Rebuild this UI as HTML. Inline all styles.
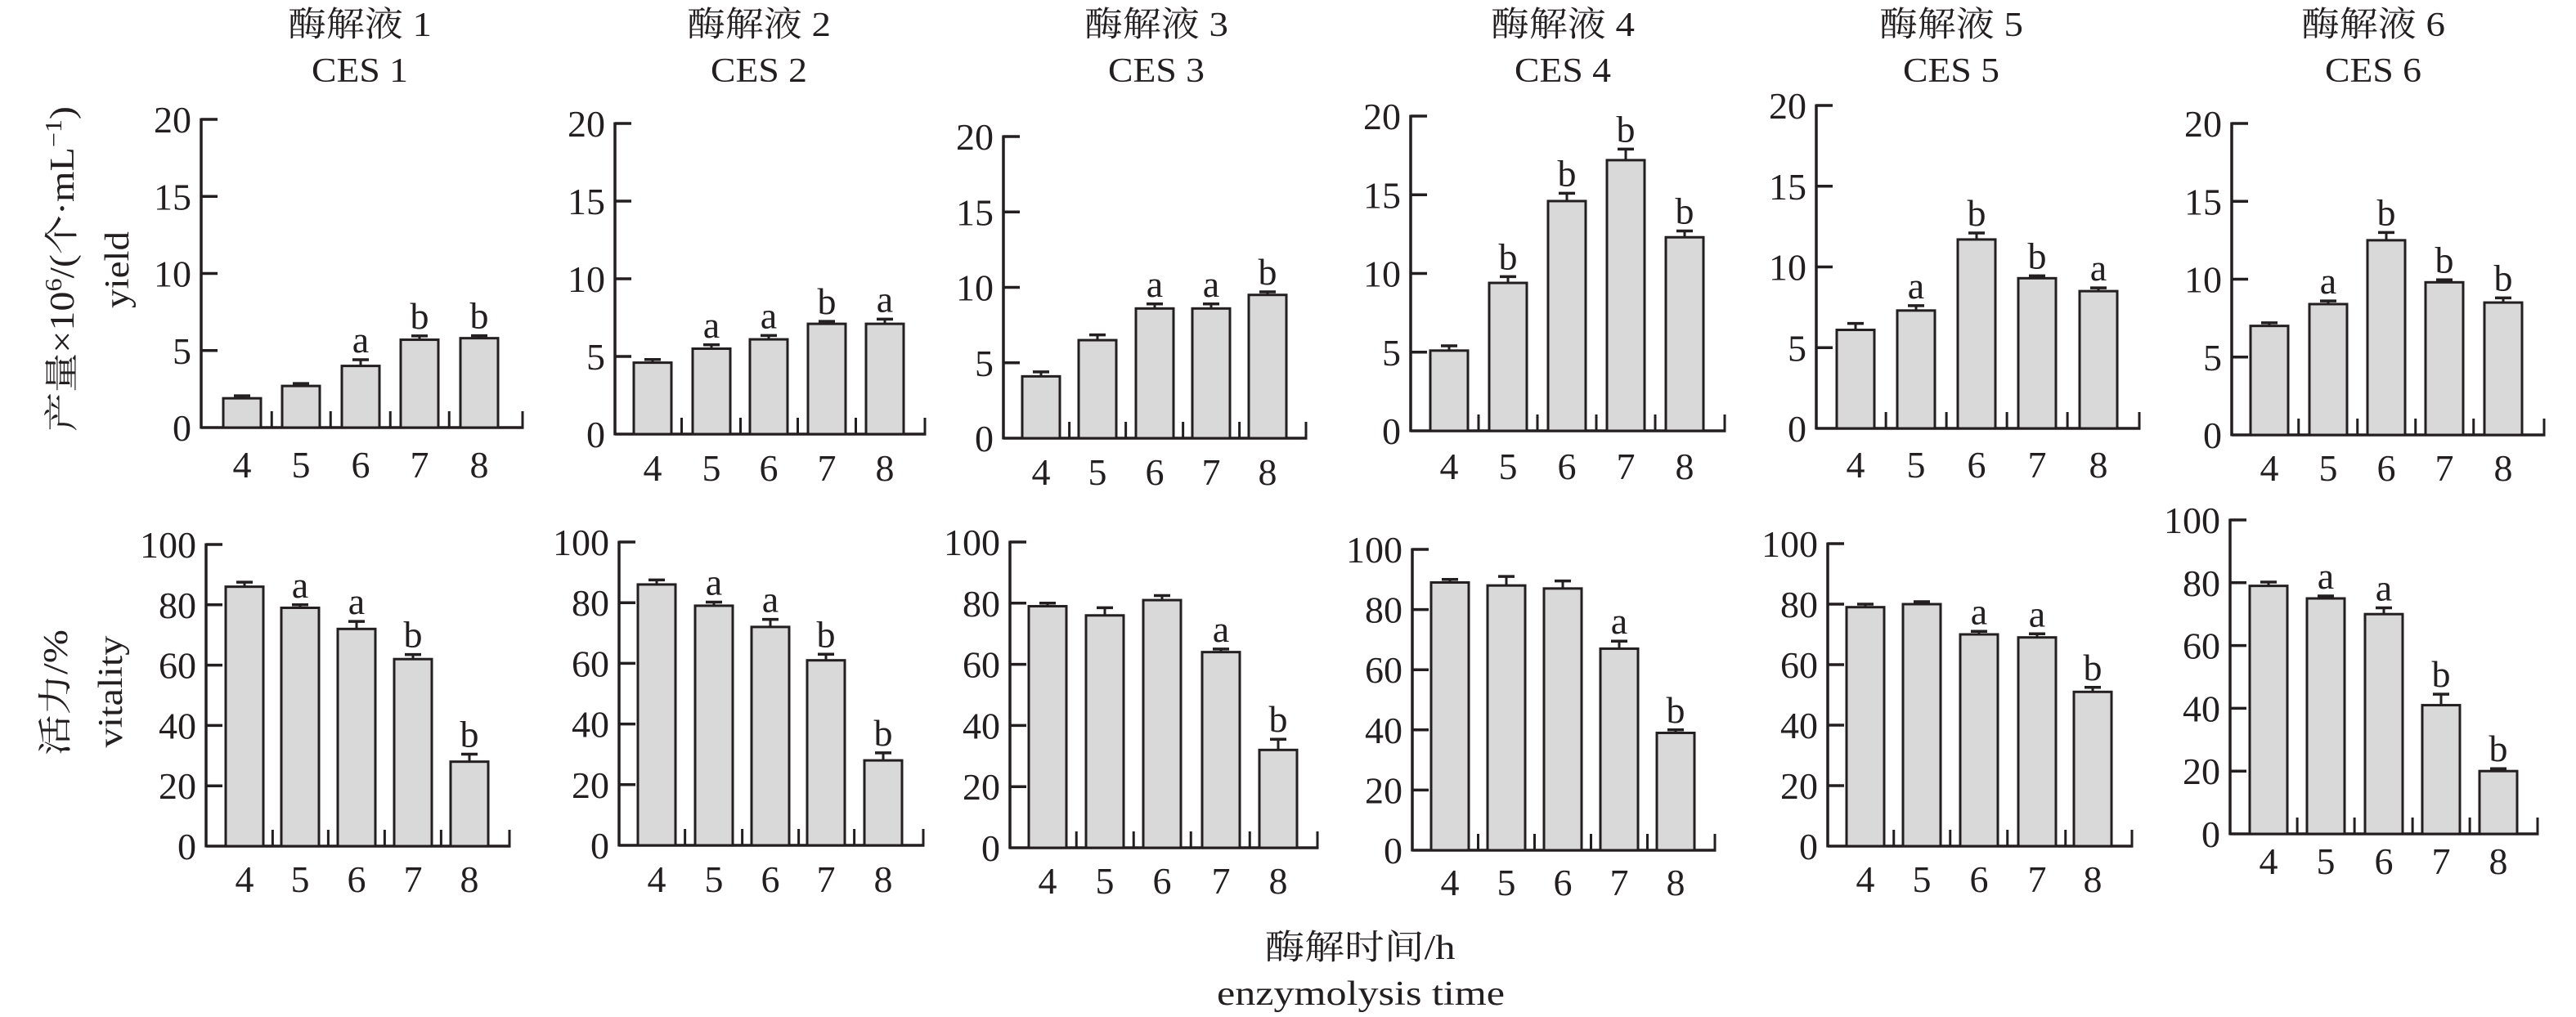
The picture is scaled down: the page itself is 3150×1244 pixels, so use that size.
<!DOCTYPE html>
<html><head><meta charset="utf-8">
<style>
html,body{margin:0;padding:0;background:#fff;}
svg{display:block;}
text{font-family:"Liberation Serif","Noto Serif CJK SC","Noto Sans CJK SC",serif;fill:#231f20;}
</style></head>
<body>
<svg id="s" width="3150" height="1244" viewBox="0 0 3150 1244" xmlns="http://www.w3.org/2000/svg">
<text x="440" y="44" font-size="42" text-anchor="middle" textLength="176" lengthAdjust="spacingAndGlyphs">酶解液 1</text>
<text x="440" y="100" font-size="42" text-anchor="middle" textLength="118" lengthAdjust="spacingAndGlyphs">CES 1</text>
<text x="928" y="44" font-size="42" text-anchor="middle" textLength="176" lengthAdjust="spacingAndGlyphs">酶解液 2</text>
<text x="928" y="100" font-size="42" text-anchor="middle" textLength="118" lengthAdjust="spacingAndGlyphs">CES 2</text>
<text x="1414" y="44" font-size="42" text-anchor="middle" textLength="176" lengthAdjust="spacingAndGlyphs">酶解液 3</text>
<text x="1414" y="100" font-size="42" text-anchor="middle" textLength="118" lengthAdjust="spacingAndGlyphs">CES 3</text>
<text x="1911" y="44" font-size="42" text-anchor="middle" textLength="176" lengthAdjust="spacingAndGlyphs">酶解液 4</text>
<text x="1911" y="100" font-size="42" text-anchor="middle" textLength="118" lengthAdjust="spacingAndGlyphs">CES 4</text>
<text x="2386" y="44" font-size="42" text-anchor="middle" textLength="176" lengthAdjust="spacingAndGlyphs">酶解液 5</text>
<text x="2386" y="100" font-size="42" text-anchor="middle" textLength="118" lengthAdjust="spacingAndGlyphs">CES 5</text>
<text x="2902" y="44" font-size="42" text-anchor="middle" textLength="176" lengthAdjust="spacingAndGlyphs">酶解液 6</text>
<text x="2902" y="100" font-size="42" text-anchor="middle" textLength="118" lengthAdjust="spacingAndGlyphs">CES 6</text>

<text transform="translate(90,329) rotate(-90)" font-size="42" text-anchor="middle" textLength="398" lengthAdjust="spacingAndGlyphs">产量×10<tspan font-size="28" dy="-15">6</tspan><tspan dy="15">/(个·mL</tspan><tspan font-size="28" dy="-15">−1</tspan><tspan dy="15">)</tspan></text>
<text transform="translate(157,330) rotate(-90)" font-size="42" text-anchor="middle" textLength="94" lengthAdjust="spacingAndGlyphs">yield</text>
<text transform="translate(82,847) rotate(-90)" font-size="42" text-anchor="middle" textLength="154" lengthAdjust="spacingAndGlyphs">活力/%</text>
<text transform="translate(149,846) rotate(-90)" font-size="42" text-anchor="middle" textLength="137" lengthAdjust="spacingAndGlyphs">vitality</text>

<text x="1663" y="1173" font-size="42" text-anchor="middle" textLength="233" lengthAdjust="spacingAndGlyphs">酶解时间/h</text>
<text x="1664" y="1229" font-size="42" text-anchor="middle" textLength="352" lengthAdjust="spacingAndGlyphs">enzymolysis time</text>
<g id="g"></g>
</svg>
<script>
var NS="http://www.w3.org/2000/svg",G=document.getElementById("g");
function el(t,a,txt){var e=document.createElementNS(NS,t);for(var k in a)e.setAttribute(k,a[k]);if(txt!==undefined)e.textContent=txt;G.appendChild(e);return e;}
function txt(x,y,s,anchor){var t=document.createElementNS(NS,"text");t.setAttribute("x",x);t.setAttribute("y",y);t.setAttribute("font-size","46");t.setAttribute("text-anchor",anchor||"middle");t.textContent=s;G.appendChild(t);}
var panels=[
{ax:246,top:146,zero:523,end:639,lb:584,max:20,step:5,c:[296,368,441,513,586],v:[1.9,2.7,4.0,5.7,5.8],e:[.1,.15,.4,.25,.15],l:["","","a","b","b"]},
{ax:752,top:151,zero:531,end:1131,lb:588,max:20,step:5,c:[798,870,940,1011,1082],v:[4.6,5.5,6.1,7.1,7.1],e:[.2,.25,.25,.1,.3],l:["","a","a","b","a"]},
{ax:1227,top:167,zero:536,end:1597,lb:593,max:20,step:5,c:[1273,1342,1412,1481,1550],v:[4.1,6.5,8.6,8.6,9.5],e:[.3,.35,.3,.3,.2],l:["","","a","a","b"]},
{ax:1725,top:142,zero:527,end:2109,lb:586,max:20,step:5,c:[1772,1844,1916,1988,2060],v:[5.1,9.4,14.6,17.2,12.3],e:[.3,.4,.5,.7,.4],l:["","b","b","b","b"]},
{ax:2221,top:129,zero:524,end:2616,lb:584,max:20,step:5,c:[2269,2343,2417,2491,2566],v:[6.1,7.3,11.7,9.3,8.5],e:[.4,.3,.4,.1,.2],l:["","a","b","b","a"]},
{ax:2729,top:151,zero:532,end:3111,lb:588,max:20,step:5,c:[2775,2847,2918,2989,3061],v:[7.0,8.4,12.5,9.8,8.5],e:[.2,.2,.5,.15,.3],l:["","a","b","b","b"]},
{ax:252,top:666,zero:1035,end:623,lb:1091,max:100,step:20,c:[299,367,436,505,574],v:[86,79,72,62,28],e:[1.5,1,2.5,1.5,2.5],l:["","a","a","b","b"]},
{ax:757,top:663,zero:1034,end:1129,lb:1091,max:100,step:20,c:[803,873,942,1010,1080],v:[86,79,72,61,28],e:[1.5,1.2,2.5,2,2.5],l:["","a","a","b","b"]},
{ax:1235,top:663,zero:1037,end:1611,lb:1093,max:100,step:20,c:[1281,1351,1421,1493,1563],v:[79,76,81,64,32],e:[1,2.5,1.5,1,3.5],l:["","","","a","b"]},
{ax:1727,top:672,zero:1040,end:2097,lb:1095,max:100,step:20,c:[1773,1842,1911,1980,2049],v:[89,88,87,67,39],e:[1,3,2.5,2.5,1],l:["","","","a","b"]},
{ax:2235,top:665,zero:1035,end:2607,lb:1091,max:100,step:20,c:[2281,2350,2420,2491,2559],v:[79,80,70,69,51],e:[1,.8,1,1.2,1.5],l:["","","a","a","b"]},
{ax:2727,top:636,zero:1020,end:3103,lb:1069,max:100,step:20,c:[2774,2844,2915,2985,3055],v:[79,75,70,41,20],e:[1.2,.3,2,3.5,.5],l:["","a","a","b","b"]}
];
var S="#231f20";
panels.forEach(function(p){
  var sc=(p.zero-p.top)/p.max;
  el("line",{x1:p.ax,y1:p.top-1.5,x2:p.ax,y2:p.zero+1.5,stroke:S,"stroke-width":3.5});
  el("line",{x1:p.ax,y1:p.zero,x2:p.end+1.5,y2:p.zero,stroke:S,"stroke-width":3.5});
  for(var v=0;v<=p.max;v+=p.step){
    var y=p.zero-v*sc;
    if(v>0) el("line",{x1:p.ax,y1:y,x2:p.ax+20,y2:y,stroke:S,"stroke-width":3.5});
    txt(p.ax-12,y+16,String(v),"end");
  }
  var sp=(p.c[4]-p.c[0])/4;
  for(var i=0;i<5;i++){
    var tx=p.c[i]+sp/2; if(i==4) tx=p.end;
    el("line",{x1:tx,y1:p.zero,x2:tx,y2:p.zero-20,stroke:S,"stroke-width":3});
  }
  for(var i=0;i<5;i++){
    var c=p.c[i],h=p.v[i]*sc,w=46,yt=p.zero-h,ye=yt-p.e[i]*sc;
    if(ye>yt-3) ye=yt-3;
    el("line",{x1:c,y1:yt,x2:c,y2:ye,stroke:S,"stroke-width":3});
    el("line",{x1:c-10,y1:ye,x2:c+10,y2:ye,stroke:S,"stroke-width":3.5});
    el("rect",{x:c-w/2,y:yt,width:w,height:h,fill:"#d9d9d9",stroke:S,"stroke-width":3});
    if(p.l[i]) txt(c,ye-9,p.l[i]);
    txt(c,p.lb,String(i+4));
  }
});
</script>
</body></html>
